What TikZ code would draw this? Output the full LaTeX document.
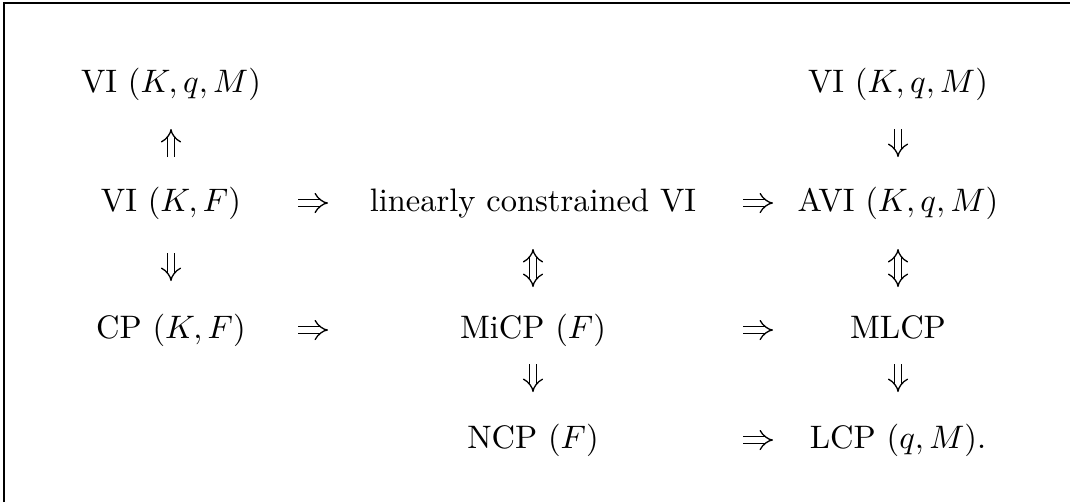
\documentclass[tikz,border=0pt]{standalone}
\usetikzlibrary{arrows.meta}
\newcommand{\pxl}{0.3077pt}
\tikzset{
  term/.style={inner sep=0pt, text height=7.5pt, text depth=2.5pt},
  imp/.style={double, double distance=1.8pt, line width=0.4pt, -{Implies}},
  impboth/.style={double, double distance=1.8pt, line width=0.4pt, {Implies}-{Implies}},
  span/.style 2 args={shorten <=#1*\pxl, shorten >=#2*\pxl},
}
\begin{document}
\begin{tikzpicture}[x=\pxl, y=-\pxl]
    \useasboundingbox (0,0) rectangle (1070,502);
    % Frame
    \draw[line width=0.5pt] (4,502) -- (4,3) -- (1070,3);

    % Problems
    \node[term] (viqmL) at (171,84) {VI $(K,q,M)$};
    \node[term] (viqmR) at (898,84) {VI $(K,q,M)$};
    \node[term] (vikf) at (171,203) {VI $(K,F)$};
    \node[term] (lcvi) at (533,203) {linearly constrained VI};
    \node[term] (aviqm) at (898,203) {AVI $(K,q,M)$};
    \node[term] (cpkf) at (171,330) {CP $(K,F)$};
    \node[term] (micp) at (533,330) {MiCP $(F)$};
    \node[term] (mlcp) at (898,330) {MLCP};
    \node[term] (ncp) at (533,440) {NCP $(F)$};
    \node[term] (lcp) at (898,440) {LCP $(q,M)$.};

    % Implications
    \draw[imp, span={46}{45}] (vikf.center) -- (viqmL.center);
    \draw[imp, span={45}{46}] (viqmR.center) -- (aviqm.center);
    \draw[imp, span={127}{205}] (vikf.center) -- (lcvi.center);
    \draw[imp, span={210}{125}] (lcvi.center) -- (aviqm.center);
    \draw[imp, span={50}{49}] (vikf.center) -- (cpkf.center);
    \draw[impboth, span={46}{43}] (lcvi.center) -- (micp.center);
    \draw[impboth, span={46}{43}] (aviqm.center) -- (mlcp.center);
    \draw[imp, span={127}{205}] (cpkf.center) -- (micp.center);
    \draw[imp, span={210}{125}] (micp.center) -- (mlcp.center);
    \draw[imp, span={34}{48}] (micp.center) -- (ncp.center);
    \draw[imp, span={34}{48}] (mlcp.center) -- (lcp.center);
    \draw[imp, span={210}{125}] (ncp.center) -- (lcp.center);

\end{tikzpicture}
\end{document}
